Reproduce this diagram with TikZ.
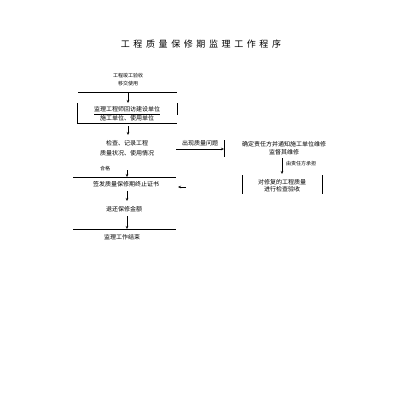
\documentclass[tikz,border=0pt]{standalone}
\usepackage{fontspec}
\setmainfont{Noto Sans CJK SC}
\newfontfamily\titlefont[LetterSpace=40]{Noto Sans CJK SC}
\usetikzlibrary{arrows.meta}
\begin{document}
\begin{tikzpicture}[x=1pt,y=-1pt,
  txt/.style={inner sep=0pt,align=center,font=\fontsize{6}{8}\selectfont},
  small/.style={inner sep=0pt,align=center,font=\fontsize{5}{8}\selectfont},
  rule/.style={line width=0.9pt},
  arr/.style={line width=0.7pt,-{Stealth[length=3pt,width=2.5pt]}}]
\useasboundingbox[fill=white] (0,0) rectangle (400,410);
\node[inner sep=0pt,font=\titlefont\fontsize{9}{10}\selectfont] (title) at (201,44) {工程质量保修期监理工作程序};
% left column
\node[small] (n1) at (128,80) {工程竣工验收\\移交使用};
\coordinate (l1a) at (78,92); \coordinate (l1b) at (177,92);
\draw[rule] (l1a) -- (l1b);
\node[txt,font=\fontsize{6}{7}\selectfont] (n2) at (127,114) {\underline{监理工程师回访建设单位}\\施工单位、使用单位};
\coordinate (b2tl) at (77,103); \coordinate (b2bl) at (77,123);
\coordinate (b2tr) at (177,103); \coordinate (b2mr) at (177,115); \coordinate (b2br) at (177,123);
\draw[rule] (b2tl) -- (b2bl) -- (b2br);
\draw[rule] (b2tr) -- (b2mr);
\node[txt,font=\fontsize{6}{10}\selectfont] (n3) at (127,148) {检查、记录工程\\质量状况、使用情况};
\node[small] (ok) at (105,169) {合格};
\coordinate (l2a) at (73,177); \coordinate (l2b) at (176,177);
\draw[rule] (l2a) -- (l2b);
\node[txt] (n4) at (126,184) {签发质量保修期终止证书};
\node[txt] (n5) at (124,209) {退还保修金额};
\coordinate (l3a) at (73,229); \coordinate (l3b) at (176,229);
\draw[rule] (l3a) -- (l3b);
\node[txt] (n6) at (122,237) {监理工作结束};
% left arrows
\coordinate (a1s) at (128,93);
\draw[arr] (a1s) -- (b2tl -| a1s);
\draw[arr] (b2bl -| n3) ++(1,3) -- ++(0,9);
\coordinate (a3s) at (127,170);
\draw[arr] (a3s) -- (l2a -| a3s);
\draw[arr] (n4.south -| 127,0) ++(0,4) -- ++(0,10);
\coordinate (a5s) at (127,216);
\draw[arr] (a5s) -- (l3a -| a5s);
% right side
\node[txt] (q) at (200,143) {出现质量问题};
\coordinate (r1t) at (224,140); \coordinate (r1b) at (224,157);
\draw[rule] (r1t) -- (r1b);
\coordinate (qs) at (176,149);
\draw[arr] (qs) -- (qs -| r1t);
\node[txt] (n7) at (284,148) {确定责任方并通知施工单位维修\\监督其维修};
\coordinate (d1) at (282,158); \coordinate (d2) at (282,174);
\draw[arr] (d1) -- (d2);
\node[small,anchor=west] (resp) at (286,164) {由责任方承担};
\node[txt,font=\fontsize{6}{7}\selectfont] (n8) at (282,185.5) {对修复的工程质量\\进行检查验收};
\coordinate (b8tl) at (242,175); \coordinate (b8bl) at (242,194);
\coordinate (b8tr) at (322,175); \coordinate (b8br) at (322,194);
\draw[rule] (b8tl) -- (b8bl);
\draw[rule] (b8tr) -- (b8br);
\coordinate (st) at (186,187);
\draw[arr] (st) -- (178,187);
\end{tikzpicture}
\end{document}
